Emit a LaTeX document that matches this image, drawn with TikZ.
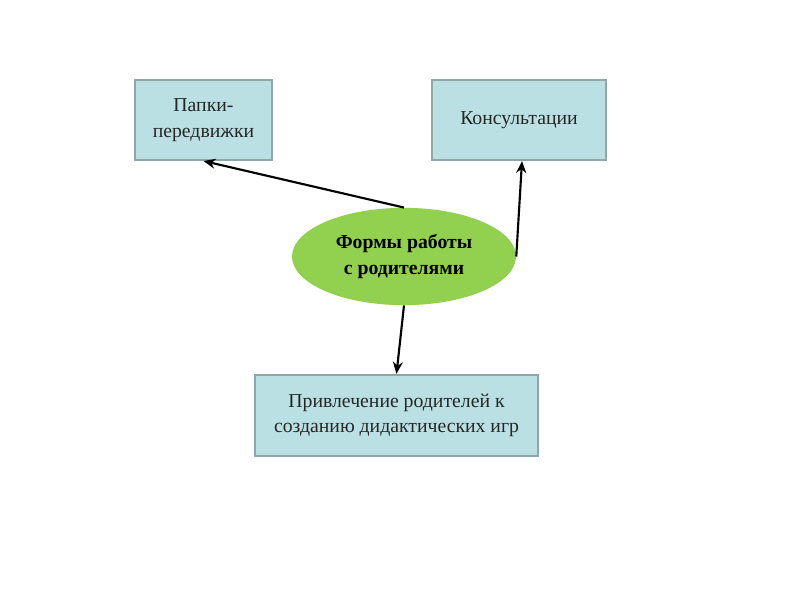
\documentclass[tikz,border=0pt]{standalone}
\usepackage{fontspec}
\setmainfont{Liberation Serif}
\usetikzlibrary{shapes.geometric,arrows.meta}
\definecolor{boxfill}{HTML}{BAE0E3}
\definecolor{boxline}{HTML}{8EA7A9}
\definecolor{ellfill}{HTML}{92D050}
\tikzset{
  box/.style={rectangle, draw=boxline, fill=boxfill, line width=1.5pt, align=center, inner sep=0pt,
    font=\fontsize{14.8}{19}\selectfont, text=black!85},
  oval/.style={ellipse, fill=ellfill, draw=none, align=center, inner sep=0pt,
    minimum width=168pt, minimum height=73pt, font=\fontsize{14.8}{19}\selectfont\bfseries},
  conn/.style={-{Stealth[length=9pt,width=7.5pt,inset=3pt]}, line width=1.6pt, black}
}
\begin{document}
\begin{tikzpicture}[x=0.75pt,y=-0.75pt]
\useasboundingbox (0,0) rectangle (800,600);
\fill[white] (0,0) rectangle (800,600);
\node[box, minimum width=102.75pt, minimum height=60pt] (papki) at (203.5,120) {Папки-\\передвижки};
\node[box, minimum width=130.5pt, minimum height=60pt] (kons) at (519,120) {Консультации};
\node[box, minimum width=212pt, minimum height=61pt] (privl) at (396.5,415.5) {Привлечение родителей к\\созданию дидактических игр};
\node[oval] (forms) at (404,256.5) {Формы работы\\с родителями};
\draw[conn] (forms.north) -- (papki.south);
\draw[conn] (forms.east) -- ([xshift=2.25pt]kons.south);
\draw[conn] (forms.south) -- (privl.north);
\end{tikzpicture}
\end{document}
